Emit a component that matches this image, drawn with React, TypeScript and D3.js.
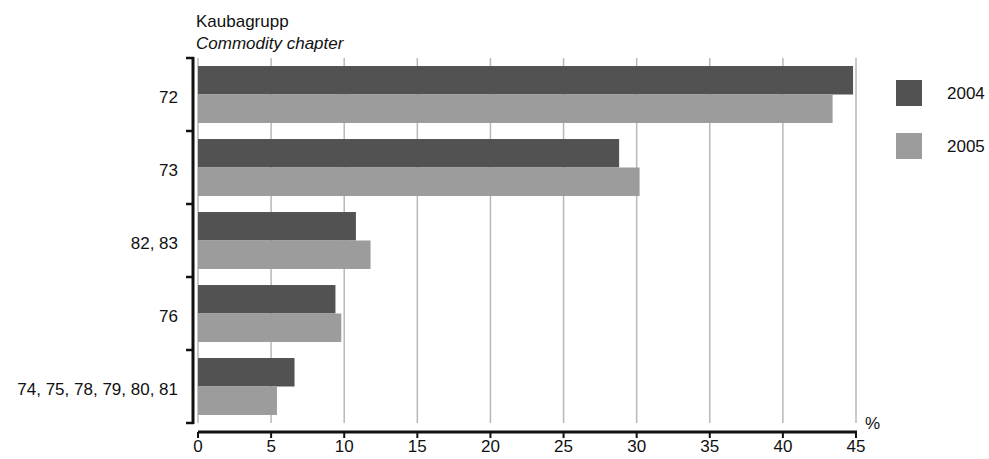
import React from "react";
import * as d3 from "d3";

const categories = ["72", "73", "82, 83", "76", "74, 75, 78, 79, 80, 81"];
const series2004 = [44.8, 28.8, 10.8, 9.4, 6.6];
const series2005 = [43.4, 30.2, 11.8, 9.8, 5.4];
const seriesNames = ["2004", "2005"];
const xTicks = [0, 5, 10, 15, 20, 25, 30, 35, 40, 45];
const colors = ["#525252", "#9c9c9c"];

const W = 989;
const H = 459;
const left = 198;
const right = 856;
const top = 58;
const bottom = 423;
const fs = 17;
const font = "'Liberation Sans', Arial, Helvetica, sans-serif";

export default function App() {
  const x = d3.scaleLinear().domain([0, 45]).range([left, right]);
  const y = d3.scaleBand<string>().domain(categories).range([top, bottom]).paddingInner(0.22).paddingOuter(0.11);
  const inner = d3.scaleBand<string>().domain(seriesNames).range([0, y.bandwidth()]);
  const step = y.step();
  const data = [series2004, series2005];
  const boundaries = d3.range(categories.length + 1).map((i) => top + i * step);

  return (
    <svg width={W} height={H} style={{ position: "absolute", left: 0, top: 0, fontFamily: font }}>
      <rect width={W} height={H} fill="#fff" />
      <text x={196} y={27} fontSize={fs} fill="#111">Kaubagrupp</text>
      <text x={196} y={49} fontSize={fs} fontStyle="italic" fill="#111">Commodity chapter</text>
      {xTicks.map((t) => (
        <line key={"g" + t} x1={x(t)} x2={x(t)} y1={top} y2={bottom} stroke="#b8b8b8" strokeWidth={1.5} />
      ))}
      {categories.map((c, i) =>
        data.map((s, j) => (
          <rect
            key={c + j}
            x={x(0)}
            y={(y(c) as number) + (inner(seriesNames[j]) as number)}
            width={x(s[i]) - x(0)}
            height={inner.bandwidth()}
            fill={colors[j]}
          />
        ))
      )}
      {/* y axis */}
      <line x1={193} x2={193} y1={top - 1} y2={bottom + 1} stroke="#111" strokeWidth={3} />
      {boundaries.map((b, i) => (
        <line key={"yt" + i} x1={186} x2={194} y1={b} y2={b} stroke="#111" strokeWidth={2.5} />
      ))}
      {categories.map((c) => (
        <text key={"l" + c} x={178} y={(y(c) as number) - step * 0.11 + step / 2 + 8.5} fontSize={fs} textAnchor="end" fill="#111">
          {c}
        </text>
      ))}
      {/* x axis */}
      <line x1={x(0)} x2={x(45) + 1} y1={432} y2={432} stroke="#111" strokeWidth={3} />
      {xTicks.map((t) => (
        <g key={"xt" + t}>
          <line x1={x(t)} x2={x(t)} y1={432} y2={438} stroke="#111" strokeWidth={2} />
          <text x={x(t)} y={452} fontSize={fs} textAnchor="middle" fill="#111">{t}</text>
        </g>
      ))}
      <text x={865} y={429} fontSize={fs} fill="#111">%</text>
      {/* legend */}
      {seriesNames.map((n, j) => (
        <g key={"lg" + n}>
          <rect x={896} y={80 + j * 53} width={26} height={26} fill={colors[j]} />
          <text x={947} y={98.5 + j * 53} fontSize={fs} fill="#111">{n}</text>
        </g>
      ))}
    </svg>
  );
}
